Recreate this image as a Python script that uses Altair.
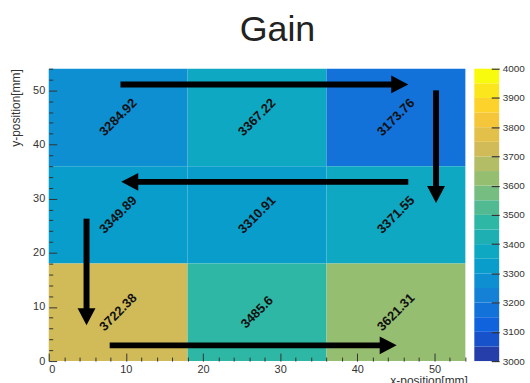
import altair as alt
import pandas as pd

# Gain map: 3 x 3 cells of 18 mm, rows listed top to bottom
cell_x_lo = [0, 18, 36, 0, 18, 36, 0, 18, 36]
cell_x_hi = [18, 36, 54, 18, 36, 54, 18, 36, 54]
cell_y_lo = [36, 36, 36, 18, 18, 18, 0, 0, 0]
cell_y_hi = [54, 54, 54, 36, 36, 36, 18, 18, 18]
gain = [3284.92, 3367.22, 3173.76,
        3349.89, 3310.91, 3371.55,
        3722.38, 3485.6, 3621.31]

# Scan path arrows (mm): start, shaft end (head base), tip, direction
arrow_start_x = [9.3, 50.2, 46.6, 4.9, 7.9]
arrow_start_y = [51.1, 50.0, 33.1, 26.3, 2.9]
arrow_base_x = [44.9, 50.2, 11.1, 4.9, 43.4]
arrow_base_y = [51.1, 31.8, 33.1, 9.2, 2.9]
arrow_tip_x = [46.6, 50.2, 9.4, 4.9, 45.1]
arrow_tip_y = [51.1, 29.2, 33.1, 6.6, 2.9]
arrow_dir = ["right", "down", "left", "down", "right"]

# Colour axis range and its labelled values
z_min, z_max = 3000, 4000
z_ticks = [3000, 3100, 3200, 3300, 3400, 3500, 3600, 3700, 3800, 3900, 4000]

# kBird palette stops, sampled into 20 contour bands
bird_pos = [0, 0.125, 0.25, 0.375, 0.5, 0.625, 0.75, 0.875, 1.0]
bird_rgb = [(53, 42, 135), (15, 92, 221), (20, 129, 214), (6, 164, 202),
            (46, 183, 164), (135, 191, 119), (209, 187, 89), (254, 200, 50),
            (249, 251, 14)]
n_contours = 20


def bird(t):
    for i in range(len(bird_pos) - 1):
        if t <= bird_pos[i + 1]:
            f = (t - bird_pos[i]) / (bird_pos[i + 1] - bird_pos[i])
            c = [round(a + (b - a) * f) for a, b in zip(bird_rgb[i], bird_rgb[i + 1])]
            return "#%02x%02x%02x" % tuple(c)
    return "#%02x%02x%02x" % bird_rgb[-1]


band_colors = [bird((k + 0.99) / n_contours) for k in range(n_contours)]
band_step = (z_max - z_min) / n_contours
bands = pd.DataFrame({
    "lo": [z_min + k * band_step for k in range(n_contours)],
    "hi": [z_min + (k + 1) * band_step for k in range(n_contours)],
})
bands["mid"] = (bands["lo"] + bands["hi"]) / 2

tick_values = list(range(0, 55, 2))

cells = pd.DataFrame({"x_lo": cell_x_lo, "x_hi": cell_x_hi,
                      "y_lo": cell_y_lo, "y_hi": cell_y_hi, "gain": gain})
cells["label"] = [f"{g:g}" for g in gain]
arrows = pd.DataFrame({"sx": arrow_start_x, "sy": arrow_start_y,
                       "bx": arrow_base_x, "by": arrow_base_y,
                       "tx": arrow_tip_x, "ty": arrow_tip_y, "dir": arrow_dir})

FONT = "Liberation Sans"
inward = alt.ExprRef(expr="datum.value % 10 === 0 ? -8 : -4")
major_only = "datum.value % 10 === 0 ? datum.label : ''"

x_scale = alt.Scale(domain=[0, 54], nice=False, zero=False)
y_scale = alt.Scale(domain=[0, 54], nice=False, zero=False)
color_scale = alt.Scale(type="quantize", domain=[z_min, z_max], range=band_colors)

common_axis = dict(values=tick_values, labelExpr=major_only, tickSize=inward,
                   tickColor="#333", tickWidth=1, domain=False, grid=False,
                   labelOverlap=False, labelFont=FONT, labelFontSize=11,
                   labelColor="#333", titleFont=FONT, titleFontSize=12,
                   titleFontWeight="normal", titleColor="#333",
                   titleBaseline="alphabetic", zindex=1)

x_axis = alt.Axis(labelPadding=11, title="x-position[mm]",
                  titleAlign="right", titleX=421, titleY=24, **common_axis)
y_axis = alt.Axis(labelPadding=12, title="y-position[mm]", titleAngle=270,
                  titleAlign="right", titleX=-29, titleY=0, **common_axis)


def X(field, **kw):
    return alt.X(field, scale=x_scale, axis=x_axis, **kw)


def Y(field, **kw):
    return alt.Y(field, scale=y_scale, axis=y_axis, **kw)


heat = alt.Chart(cells).mark_rect(stroke=None).encode(
    x=X("x_lo:Q"), x2="x_hi:Q", y=Y("y_lo:Q"), y2="y_hi:Q",
    color=alt.Color("gain:Q", scale=color_scale, legend=None),
)

labels = alt.Chart(cells).transform_calculate(
    cx="(datum.x_lo + datum.x_hi) / 2",
    cy="(datum.y_lo + datum.y_hi) / 2",
).mark_text(angle=315, font=FONT, fontSize=13, fontWeight="bold",
            color="#111").encode(x=X("cx:Q"), y=Y("cy:Q"), text="label:N")

shafts = alt.Chart(arrows).mark_rule(color="black", strokeWidth=6,
                                     strokeCap="butt").encode(
    x=X("sx:Q"), y=Y("sy:Q"), x2="bx:Q", y2="by:Q")

heads = alt.Chart(arrows).mark_point(filled=True, color="black", opacity=1,
                                     size=324, strokeWidth=0).encode(
    x=X("tx:Q"), y=Y("ty:Q"),
    shape=alt.Shape("dir:N", legend=None, scale=alt.Scale(
        domain=["right", "left", "down"],
        range=["M0,0L-1.9,-1L-1.9,1Z", "M0,0L1.9,-1L1.9,1Z",
               "M0,0L-1,-1.9L1,-1.9Z"])),
)

main = alt.layer(heat, labels, shafts, heads).properties(width=419, height=294)

# Colour bar: one band per contour, with its own right-hand axis
colorbar = alt.Chart(bands).mark_rect(stroke=None).encode(
    x=alt.value(0), x2=alt.value(25),
    y=alt.Y("lo:Q", scale=alt.Scale(domain=[z_min, z_max], nice=False, zero=False),
            axis=alt.Axis(orient="right", values=z_ticks, format="d",
                          tickSize=alt.ExprRef(expr="-8"), tickColor="#333",
                          tickWidth=1.2, domain=False, grid=False,
                          labelPadding=11, labelFlush=False, labelOverlap=False,
                          labelFont=FONT, labelFontSize=10, labelColor="#333",
                          title=None, zindex=1)),
    y2="hi:Q",
    color=alt.Color("mid:Q", scale=color_scale, legend=None),
).properties(width=25, height=294)

chart = alt.hconcat(main, colorbar, spacing=9, bounds="flush").properties(
    title=alt.TitleParams("Gain", font=FONT, fontSize=36, fontWeight="normal",
                          color="#222", anchor="start", frame="group",
                          baseline="alphabetic", offset=-14, dx=192),
    autosize=alt.AutoSizeParams(type="pad"),
    padding={"left": 10, "top": 11, "right": 5, "bottom": 5},
    background="white",
).configure_view(stroke=None)

chart.save("out.html", embed_options={"renderer": "svg", "actions": False})
